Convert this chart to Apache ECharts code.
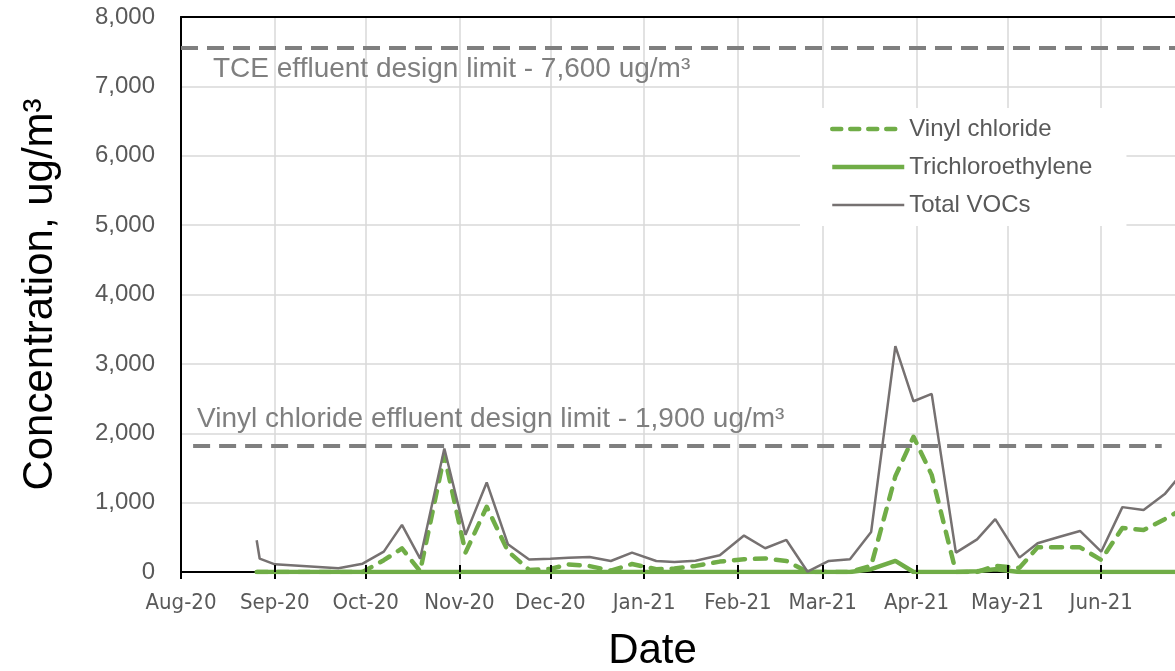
<!DOCTYPE html>
<html>
<head>
<meta charset="utf-8">
<script src="https://cdn.jsdelivr.net/npm/echarts@6/dist/echarts.min.js"></script>
<style>
html,body{margin:0;padding:0;background:#ffffff;}
#chart{width:1175px;height:671px;}
</style>
</head>
<body>
<div id="chart"></div>
<script>
// ---- data ----
const dates = [
  '2020-08-26','2020-08-27','2020-09-01','2020-09-22','2020-09-30',
  '2020-10-07','2020-10-13','2020-10-19','2020-10-27','2020-11-03',
  '2020-11-10','2020-11-17','2020-11-24','2020-12-01','2020-12-07',
  '2020-12-14','2020-12-21','2020-12-28','2021-01-05','2021-01-11',
  '2021-01-18','2021-01-26','2021-02-03','2021-02-10','2021-02-17',
  '2021-02-24','2021-03-03','2021-03-10','2021-03-17','2021-03-25',
  '2021-03-31','2021-04-06','2021-04-14','2021-04-21','2021-04-27',
  '2021-05-05','2021-05-11','2021-05-18','2021-05-25','2021-06-01',
  '2021-06-08','2021-06-15','2021-06-22','2021-06-29'
];
const vinylChloride = [
  0, 0, 0, 0, 0,
  170, 340, 10, 1680, 280,
  940, 300, 30, 45, 110,
  85, 20, 115, 40, 50,
  88, 150, 185, 195, 160,
  0, 0, 0, 90, 1380,
  1950, 1400, 0, 0, 90,
  60, 355, 355, 355, 175,
  635, 605, 762, 935
];
const trichloroethylene = [
  0, 0, 0, 0, 0,
  0, 0, 0, 0, 0,
  0, 0, 0, 0, 0,
  0, 0, 0, 0, 0,
  0, 0, 0, 0, 0,
  0, 0, 0, 40, 160,
  0, 0, 0, 10, 40,
  0, 0, 0, 0, 0,
  0, 0, 0, 0
];
const totalVOCs = [
  458, 192, 111, 53, 120,
  293, 679, 192, 1780, 535,
  1291, 400, 180, 192, 205,
  217, 159, 279, 159, 144,
  163, 241, 525, 342, 462,
  4, 159, 183, 578, 3256,
  2461, 2568, 279, 470, 762,
  207, 415, 505, 592, 293,
  935, 893, 1123, 1490
];
const seriesNames = ['Vinyl chloride', 'Trichloroethylene', 'Total VOCs'];
const monthNames = ['Jan','Feb','Mar','Apr','May','Jun','Jul','Aug','Sep','Oct','Nov','Dec'];
const xRange = ['2020-08-01', '2021-07-01'];
const yMin = 0, yMax = 8000, yInterval = 1000;
const tceLimit = 7560;
const vcLimit = 1820;
const vcLimitSpan = ['2020-08-05', '2021-06-21'];
const tceLimitLabel = 'TCE effluent design limit - 7,600 ug/m\u00B3';
const vcLimitLabel = 'Vinyl chloride effluent design limit - 1,900 ug/m\u00B3';
const yTitle = 'Concentration, ug/m\u00B3';
const xTitle = 'Date';

// ---- chart ----
const pair = arr => dates.map((d, i) => [d, arr[i]]);
const green = '#70AD47';
const gray = '#767171';
const refGray = '#7F7F7F';
const textGray = '#595959';
const baseFont = '"Liberation Sans", Arial, sans-serif';
const narrowFont = '"Liberation Sans Narrow", "DejaVu Sans Condensed", "Liberation Sans", sans-serif';
const DAY = 86400000;
const xMaxTime = new Date(xRange[1] + 'T00:00:00').getTime();

const chart = echarts.init(document.getElementById('chart'), null, {renderer: 'canvas'});
chart.setOption({
  animation: false,
  backgroundColor: '#ffffff',
  grid: {left: 181, top: 17, bottom: 99, right: -17, containLabel: false, outerBoundsMode: 'none'},
  legend: {
    orient: 'vertical',
    left: 800, top: 108,
    padding: [9, 34, 9, 30],
    backgroundColor: '#ffffff',
    itemWidth: 72, itemHeight: 24, itemGap: 14,
    itemStyle: {opacity: 0},
    textStyle: {fontFamily: baseFont, fontSize: 24, color: textGray},
    data: [
      {name: seriesNames[0], itemStyle: {opacity: 0}, lineStyle: {width: 4.5, color: green, type: [9, 9], cap: 'round'}},
      {name: seriesNames[1], itemStyle: {opacity: 0}, lineStyle: {width: 4.5, color: green, type: 'solid'}},
      {name: seriesNames[2], itemStyle: {opacity: 0}, lineStyle: {width: 2.5, color: gray, type: 'solid'}}
    ],
    selectedMode: false
  },
  xAxis: [
    {
      type: 'time',
      min: xRange[0], max: xRange[1],
      splitNumber: 11,
      minInterval: 30 * DAY, maxInterval: 30 * DAY,
      name: xTitle,
      nameLocation: 'middle',
      nameGap: 58,
      nameTextStyle: {fontFamily: baseFont, fontSize: 42, color: '#000000', padding: [0, 68, 0, 0]},
      axisLine: {show: true, lineStyle: {color: '#000000', width: 2}},
      axisTick: {show: true, inside: false, length: 7, lineStyle: {color: '#000000', width: 2}},
      axisLabel: {
        show: true, interval: 0, margin: 20,
        fontFamily: narrowFont, fontSize: 22, color: textGray,
        formatter: function (v) {
          if (v >= xMaxTime) return '';
          const d = new Date(v);
          return monthNames[d.getMonth()] + '-' + String(d.getFullYear()).slice(2);
        }
      },
      splitLine: {show: true, lineStyle: {color: '#D9D9D9', width: 1.5}}
    },
    {
      type: 'time',
      min: xRange[0], max: xRange[1],
      splitNumber: 11,
      minInterval: 30 * DAY, maxInterval: 30 * DAY,
      position: 'bottom',
      z: 10,
      axisLine: {show: false},
      axisTick: {show: true, inside: true, length: 7, lineStyle: {color: '#000000', width: 2}},
      axisLabel: {show: false},
      splitLine: {show: false}
    },
    {
      type: 'time',
      min: xRange[0], max: xRange[1],
      position: 'top',
      axisLine: {show: true, lineStyle: {color: '#000000', width: 2}},
      axisTick: {show: false},
      axisLabel: {show: false},
      splitLine: {show: false}
    }
  ],
  yAxis: {
    type: 'value',
    min: yMin, max: yMax, interval: yInterval,
    name: yTitle,
    nameLocation: 'middle',
    nameGap: 120,
    nameRotate: 90,
    nameTextStyle: {fontFamily: baseFont, fontSize: 42, color: '#000000'},
    axisLine: {show: true, lineStyle: {color: '#000000', width: 2}},
    axisTick: {show: false},
    axisLabel: {
      margin: 26, fontFamily: baseFont, fontSize: 24, color: textGray,
      formatter: v => String(v).replace(/\B(?=(\d{3})+(?!\d))/g, ',')
    },
    splitLine: {show: true, lineStyle: {color: '#D9D9D9', width: 1.5}}
  },
  series: [
    {
      name: seriesNames[0], type: 'line', xAxisIndex: 0,
      data: pair(vinylChloride),
      symbol: 'none', showSymbol: false,
      itemStyle: {color: green},
      lineStyle: {color: green, width: 4.5, type: [11, 10], cap: 'round', join: 'round'},
      emphasis: {disabled: true}, z: 3
    },
    {
      name: seriesNames[1], type: 'line', xAxisIndex: 0,
      data: pair(trichloroethylene),
      symbol: 'none', showSymbol: false,
      itemStyle: {color: green},
      lineStyle: {color: green, width: 4.5, type: 'solid', join: 'round'},
      emphasis: {disabled: true}, z: 4
    },
    {
      name: seriesNames[2], type: 'line', xAxisIndex: 0,
      data: pair(totalVOCs),
      symbol: 'none', showSymbol: false,
      itemStyle: {color: gray},
      lineStyle: {color: gray, width: 2.5, type: 'solid'},
      emphasis: {disabled: true}, z: 5,
      markLine: {
        silent: true,
        symbol: ['none', 'none'],
        lineStyle: {color: refGray, width: 4, type: [17, 9]},
        emphasis: {disabled: true},
        data: [
          {
            yAxis: tceLimit,
            label: {
              show: true, position: 'insideStartBottom', distance: [32, 8],
              formatter: tceLimitLabel,
              fontFamily: baseFont, fontSize: 28, color: refGray
            }
          },
          [
            {
              coord: [vcLimitSpan[0], vcLimit],
              label: {
                show: true, position: 'insideStartTop', distance: [4, 12],
                formatter: vcLimitLabel,
                fontFamily: baseFont, fontSize: 28, color: refGray
              }
            },
            {coord: [vcLimitSpan[1], vcLimit]}
          ]
        ]
      }
    }
  ]
});
</script>
</body>
</html>
